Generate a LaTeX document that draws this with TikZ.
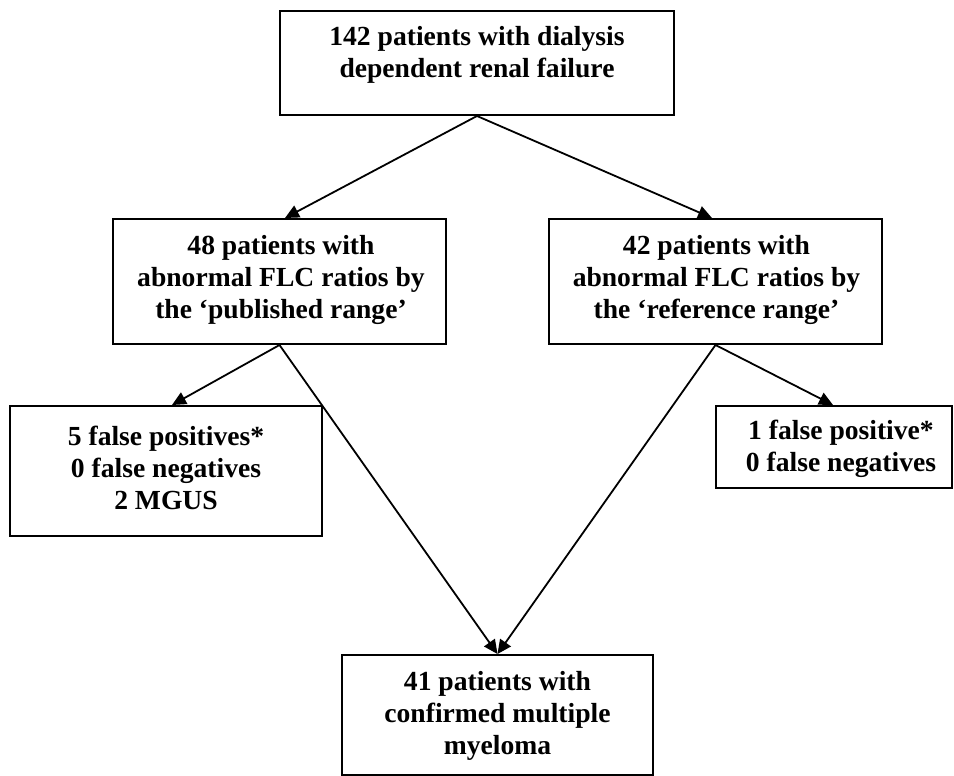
\documentclass[tikz,border=0pt]{standalone}
\usepackage{fontspec}
\setmainfont{Liberation Serif}
\usetikzlibrary{arrows.meta}
\begin{document}
\begin{tikzpicture}[x=1pt,y=-1pt,
  box/.style={draw, line width=2pt, inner sep=0pt},
  txt/.style={align=center, inner sep=0pt, font=\fontsize{27.6}{32}\selectfont\bfseries},
  conn/.style={line width=1.8pt, -{Triangle[length=14pt,width=13pt]}}]
\useasboundingbox (0,0) rectangle (954,776);
% boxes
\node[box, minimum width=394, minimum height=104] (top) at (477,63) {};
\node[box, minimum width=333, minimum height=125] (L) at (279.5,281.5) {};
\node[box, minimum width=333, minimum height=125] (R) at (715.5,281.5) {};
\node[box, minimum width=312, minimum height=130] (BL) at (166,471) {};
\node[box, minimum width=236, minimum height=82] (BR) at (834,447) {};
\node[box, minimum width=311, minimum height=120] (B) at (497.5,715) {};
% texts
\node[txt] (topt) at (477,55) {142 patients with dialysis\\dependent renal failure};
\node[txt] (Lt) at (281,280) {48 patients with\\abnormal FLC ratios by\\the ‘published range’};
\node[txt] (Rt) at (716.5,280) {42 patients with\\abnormal FLC ratios by\\the ‘reference range’};
\node[txt] (BLt) at (166,468) {5 false positives*\\0 false negatives\\2 MGUS};
\node[txt] (BRt) at (841,449) {1 false positive*\\0 false negatives};
\node[txt] (Bt) at (497.5,716) {41 patients with\\confirmed multiple\\myeloma};
% connectors
\draw[conn] (top.south) -- ([xshift=5.5pt]L.north);
\draw[conn] (top.south) -- ([xshift=-3.5pt]R.north);
\draw[conn] (L.south) -- ([xshift=6pt]BL.north);
\draw[conn] (L.south) -- (B.north);
\draw[conn] (R.south) -- ([xshift=-1pt]BR.north);
\draw[conn] (R.south) -- (B.north);
\end{tikzpicture}
\end{document}
